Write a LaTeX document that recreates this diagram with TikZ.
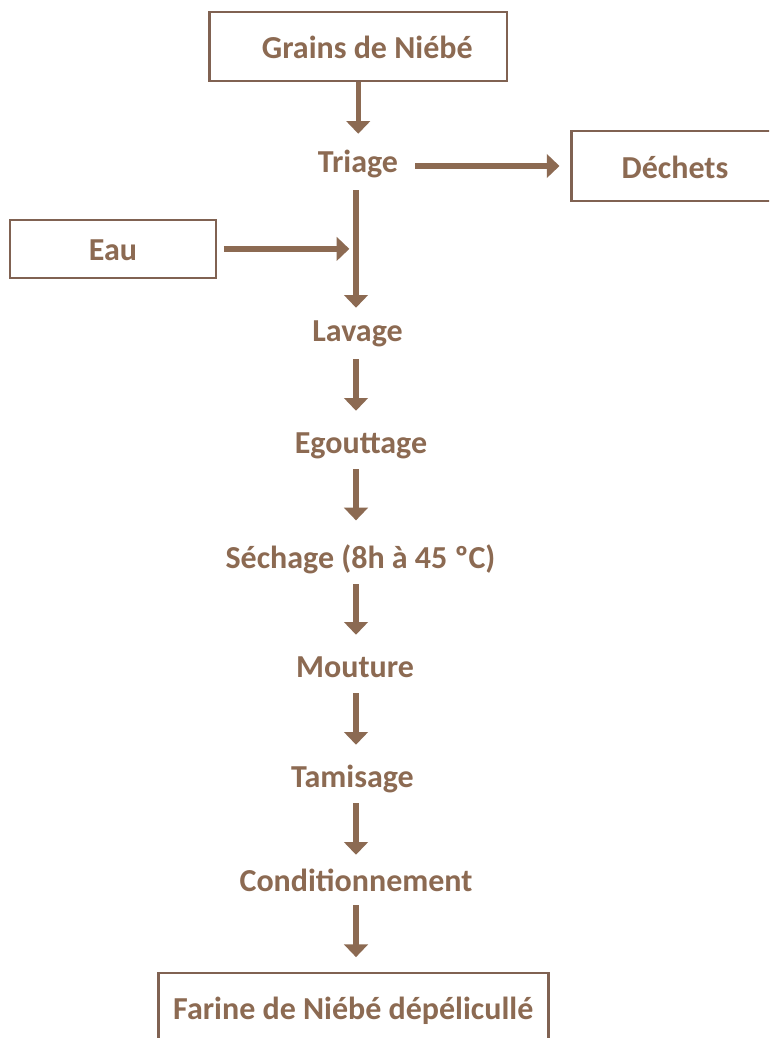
\documentclass[tikz,border=0pt]{standalone}
\usepackage{fontspec}
\setmainfont{Carlito}
\usetikzlibrary{arrows.meta}
\definecolor{brn}{RGB}{140,106,82}
\definecolor{boxc}{RGB}{128,98,82}
\begin{document}
\begin{tikzpicture}[x=0.75pt,y=-0.75pt,
  every node/.style={font=\fontsize{24}{28}\selectfont\bfseries, text=brn},
  stepnode/.style={anchor=base, inner sep=0pt, text height=31.5pt, text depth=12pt},
  boxnode/.style={draw=boxc, line width=1.8pt, inner sep=0pt, text height=18pt, text depth=0pt},
  arr/.style={draw=brn, line width=4pt, -{Triangle[width=17.5pt,length=9.5pt]}},
]
\useasboundingbox (0,0) rectangle (769,1038);
\clip (0,0) rectangle (769,1038);
\fill[white] (0,0) rectangle (769,1038);
\coordinate (axis) at (356,0);

\node[boxnode, minimum width=223.1pt, minimum height=51.75pt] (grains) at (358.25,46.5) {\hspace*{13.5pt}Grains de Niébé};
\node[boxnode, minimum width=155pt, minimum height=52.5pt] (dechets) at (675,166) {Déchets};
\node[boxnode, minimum width=154.5pt, minimum height=43.3pt] (eau) at (113,248.9) {Eau};
\node[boxnode, minimum width=292.5pt, minimum height=51pt] (farine) at (353.3,1007) {Farine de Niébé dépélicullé};

\node[stepnode] (triage) at (358,172.7) {Triage};
\node[stepnode] (lavage) at (357.5,341) {Lavage};
\node[stepnode] (egouttage) at (361,453) {Egouttage};
\node[stepnode] (sechage) at (360.5,568) {Séchage (8h à 45 ºC)};
\node[stepnode] (mouture) at (355,677) {Mouture};
\node[stepnode] (tamisage) at (352.5,787) {Tamisage};
\node[stepnode] (cond) at (356,891.7) {Conditionnement};

\coordinate (join) at (eau.east -| axis);

\draw[arr, shorten >=-2.5pt] (grains.south) -- (grains.south |- triage.north);
\draw[arr, shorten <=12.75pt, shorten >=8.25pt] (triage.east |- dechets.west) -- (dechets.west);
\draw[arr, shorten <=1pt, shorten >=-6.75pt] (triage.south -| axis) -- (lavage.north -| axis);
\draw[arr, shorten <=5pt, shorten >=5pt] (eau.east) -- (join);
\draw[arr, shorten <=1.5pt] (lavage.south -| axis) -- (egouttage.north -| axis);
\draw[arr, shorten >=4pt] (egouttage.south -| axis) -- (sechage.north -| axis);
\draw[arr] (sechage.south -| axis) -- (mouture.north -| axis);
\draw[arr] (mouture.south -| axis) -- (tamisage.north -| axis);
\draw[arr, shorten >=-4pt] (tamisage.south -| axis) -- (cond.north -| axis);
\draw[arr, shorten <=-2pt, shorten >=11pt] (cond.south -| axis) -- (farine.north -| axis);
\end{tikzpicture}
\end{document}
